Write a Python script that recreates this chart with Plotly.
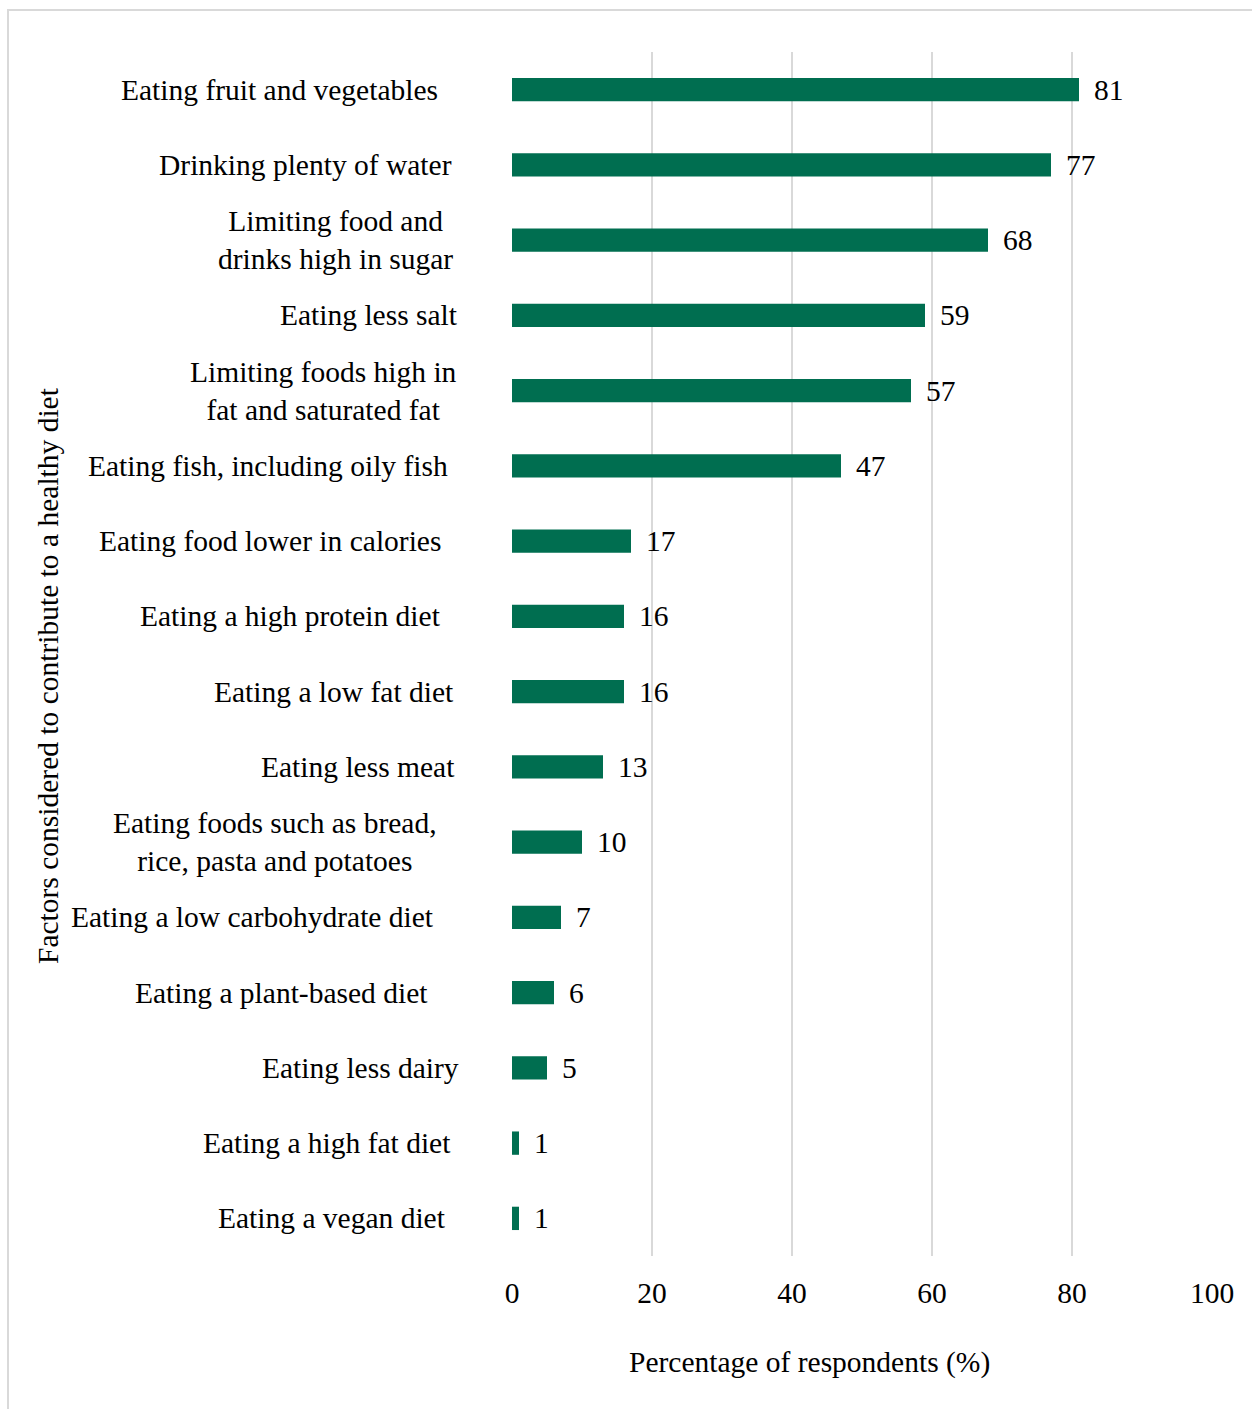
import plotly.graph_objects as go

# Survey results: factors considered to contribute to a healthy diet
categories = [
    "Eating fruit and vegetables",
    "Drinking plenty of water",
    "Limiting food and<br>drinks high in sugar",
    "Eating less salt",
    "Limiting foods high in<br>fat and saturated fat",
    "Eating fish, including oily fish",
    "Eating food lower in calories",
    "Eating a high protein diet",
    "Eating a low fat diet",
    "Eating less meat",
    "Eating foods such as bread,<br>rice, pasta and potatoes",
    "Eating a low carbohydrate diet",
    "Eating a plant-based diet",
    "Eating less dairy",
    "Eating a high fat diet",
    "Eating a vegan diet",
]
percentages = [81, 77, 68, 59, 57, 47, 17, 16, 16, 13, 10, 7, 6, 5, 1, 1]
x_ticks = [0, 20, 40, 60, 80, 100]

# Layout constants (pixels)
W, H = 1252, 1409
M_L, M_R, M_T, M_B = 512, 40, 52, 153
PLOT_W = W - M_L - M_R
PLOT_H = H - M_T - M_B
FONT = "Liberation Serif, Times New Roman, serif"
FS = 29.5
TEXT = "#000000"
BAR_COLOR = "#006E50"
GRID = "#D9D9D9"

# Right edge of each category label, relative to the plot's left edge
label_shift = [-72, -58, -57, -52, -53, -62, -69, -69, -56, -55, -73, -76, -82, -51, -59, -64]

fig = go.Figure(
    go.Bar(
        x=percentages,
        y=categories,
        orientation="h",
        marker=dict(color=BAR_COLOR, line=dict(width=0)),
        width=0.31,
        hoverinfo="skip",
    )
)

annotations = []
# Value labels next to the bars
for cat, val in zip(categories, percentages):
    annotations.append(dict(
        x=val, y=cat, xref="x", yref="y", text=str(val),
        xanchor="left", yanchor="middle", xshift=13, showarrow=False,
        font=dict(family=FONT, size=FS, color=TEXT),
    ))
# Category labels
for cat, shift in zip(categories, label_shift):
    annotations.append(dict(
        x=0, y=cat, xref="paper", yref="y", text=cat,
        xanchor="right", yanchor="middle", xshift=shift, align="center",
        showarrow=False, font=dict(family=FONT, size=FS, color=TEXT),
    ))
# Axis titles
annotations.append(dict(
    x=0, y=0, xref="paper", yref="paper", xshift=297, yshift=-106,
    text="Percentage of respondents (%)", xanchor="center", yanchor="middle",
    showarrow=False, font=dict(family=FONT, size=FS, color=TEXT),
))
annotations.append(dict(
    x=0, y=0.5, xref="paper", yref="paper", xshift=-464, yshift=-22,
    text="Factors considered to contribute to a healthy diet", textangle=-90,
    xanchor="center", yanchor="middle",
    showarrow=False, font=dict(family=FONT, size=FS, color=TEXT),
))

fig.update_layout(
    width=W, height=H,
    margin=dict(l=M_L, r=M_R, t=M_T, b=M_B),
    paper_bgcolor="white", plot_bgcolor="white",
    showlegend=False,
    annotations=annotations,
    shapes=[dict(
        type="rect", xref="paper", yref="paper",
        x0=(8 - M_L) / PLOT_W, x1=(W + 20 - M_L) / PLOT_W,
        y0=-(H + 20 - M_T - PLOT_H) / PLOT_H, y1=1 + (M_T - 10) / PLOT_H,
        line=dict(color=GRID, width=2), fillcolor="rgba(0,0,0,0)", layer="below",
    )],
    xaxis=dict(
        range=[0, 100], tickvals=x_ticks, ticktext=[str(t) for t in x_ticks],
        showgrid=True, gridcolor=GRID, gridwidth=1.5,
        zeroline=False, showline=False, ticks="",
        ticklabelstandoff=16,
        tickfont=dict(family=FONT, size=FS, color=TEXT),
    ),
    yaxis=dict(
        categoryorder="array", categoryarray=categories[::-1],
        showticklabels=False, showgrid=False, zeroline=False, ticks="",
        range=[-0.5, len(categories) - 0.5],
    ),
)

fig.write_html("out.html")
